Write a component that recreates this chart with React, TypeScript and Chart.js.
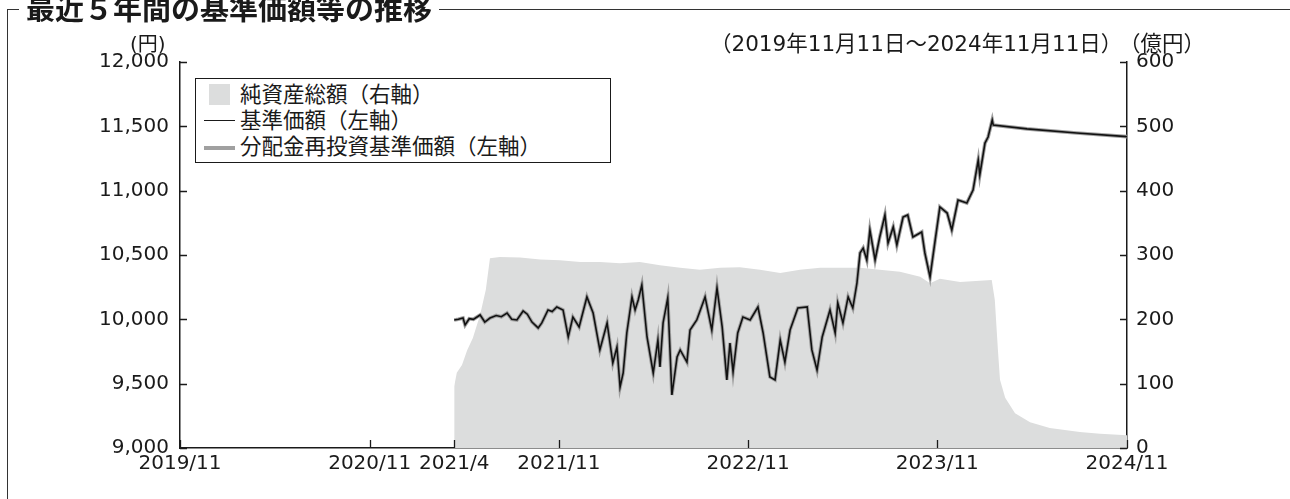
import React, { useEffect, useRef } from "react";
import { Chart, registerables } from "chart.js";

Chart.register(...registerables);

const FONT = "'DejaVu Sans', 'Noto Sans CJK JP', sans-serif";
const CJK = "'Noto Sans CJK JP', sans-serif";
const INK = "#1a1a1a";

// x values are days elapsed since 2019-11-11
const xTickDays = [0, 366, 529, 731, 1096, 1461, 1827];
const xTickLabels = ["2019/11", "2020/11", "2021/4", "2021/11", "2022/11", "2023/11", "2024/11"];

// 基準価額 (円)
const navDays = [
  529, 537, 546, 550, 558, 566, 579, 588, 598, 610, 620, 631, 640, 650, 662, 670, 679, 691, 698, 710,
  718, 727, 739, 749, 758, 770, 785, 797, 810, 824, 835, 843, 849, 855, 862, 872, 878, 884, 891, 901,
  913, 922, 926, 932, 941, 949, 959, 965, 978, 984, 997, 1013, 1026, 1036, 1046, 1055, 1061, 1067, 1076, 1086,
  1100, 1115, 1125, 1138, 1148, 1158, 1167, 1177, 1192, 1210, 1219, 1229, 1239, 1254, 1264, 1269, 1279, 1289, 1298, 1306,
  1312, 1318, 1325, 1331, 1341, 1350, 1360, 1366, 1376, 1383, 1395, 1404, 1414, 1431, 1437, 1447, 1457, 1466, 1480, 1489,
  1501, 1518, 1530, 1540, 1543, 1553, 1559, 1567, 1569, 1634, 1730, 1827,
];
const navValues = [
  9995, 10000, 10010, 9956, 10005, 10000, 10034, 9979, 10010, 10030, 10020, 10049, 10000, 9995, 10065, 10040, 9979, 9933, 9972, 10073,
  10060, 10096, 10073, 9863, 10018, 9941, 10174, 10049, 9762, 9972, 9661, 9785, 9474, 9583, 9894, 10174, 10073, 10150, 10267, 9863,
  9583, 9839, 9630, 9972, 10166, 9412, 9707, 9762, 9668, 9917, 9995, 10174, 9917, 10244, 9941, 9529, 9816, 9591, 9894, 10018,
  9995, 10096, 9894, 9552, 9529, 9839, 9668, 9917, 10088, 10096, 9762, 9606, 9863, 10073, 9894, 10127, 9972, 10174, 10088, 10282,
  10516, 10554, 10461, 10694, 10461, 10640, 10811, 10593, 10718, 10578, 10795, 10811, 10640, 10679, 10516, 10329, 10617, 10873, 10826, 10694,
  10927, 10904, 11005, 11238, 11122, 11370, 11417, 11549, 11510, 11480, 11448, 11420,
];
// 分配金再投資基準価額 (円): no distributions were paid, so it equals the NAV
const reinvestValues = navValues;

// 純資産総額 (億円)
const assetDays = [
  529, 534, 544, 554, 565, 579, 590, 598, 617, 656, 695, 733, 772, 810, 849, 887, 926, 965, 1003, 1042,
  1080, 1119, 1158, 1196, 1235, 1273, 1312, 1350, 1389, 1428, 1447, 1466, 1505, 1543, 1566, 1572, 1578, 1582, 1592, 1611,
  1640, 1678, 1736, 1775, 1827,
];
const assetValues = [
  96, 117, 129, 152, 171, 207, 246, 295, 297, 296, 293, 292, 289, 289, 287, 289, 284, 280, 277, 280,
  281, 277, 272, 277, 280, 280, 280, 277, 274, 266, 256, 263, 258, 260, 261, 230, 152, 106, 78, 54,
  40, 31, 25, 22, 20,
];

const inwardTicks = {
  id: "inwardTicks",
  afterDraw(chart: any) {
    const { ctx, chartArea, scales } = chart;
    ctx.save();
    ctx.strokeStyle = INK;
    ctx.lineWidth = 1.3;
    ctx.beginPath();
    scales.x.ticks.forEach((t: any) => {
      const p = Math.round(scales.x.getPixelForValue(t.value)) + 0.5;
      ctx.moveTo(p, chartArea.bottom);
      ctx.lineTo(p, chartArea.bottom - 8);
    });
    scales.y.ticks.forEach((t: any) => {
      const p = Math.round(scales.y.getPixelForValue(t.value)) + 0.5;
      ctx.moveTo(chartArea.left, p);
      ctx.lineTo(chartArea.left + 7, p);
    });
    scales.y1.ticks.forEach((t: any) => {
      const p = Math.round(scales.y1.getPixelForValue(t.value)) + 0.5;
      ctx.moveTo(chartArea.right, p);
      ctx.lineTo(chartArea.right - 7, p);
    });
    ctx.stroke();
    ctx.restore();
  },
};

export default function App() {
  const ref = useRef<HTMLCanvasElement | null>(null);

  useEffect(() => {
    if (!ref.current) return;
    const chart = new Chart(ref.current, {
      type: "line",
      data: {
        datasets: [
          {
            label: "基準価額（左軸）",
            data: navDays.map((d, i) => ({ x: d, y: navValues[i] })),
            borderColor: "#111",
            borderWidth: 1.6,
            pointRadius: 0,
            tension: 0,
            yAxisID: "y",
            order: 0,
          },
          {
            label: "分配金再投資基準価額（左軸）",
            data: navDays.map((d, i) => ({ x: d, y: reinvestValues[i] })),
            borderColor: "#a0a0a0",
            borderWidth: 3.6,
            pointRadius: 0,
            tension: 0,
            yAxisID: "y",
            order: 1,
          },
          {
            label: "純資産総額（右軸）",
            data: assetDays.map((d, i) => ({ x: d, y: assetValues[i] })),
            borderWidth: 0,
            borderColor: "rgba(0,0,0,0)",
            backgroundColor: "#dcdddd",
            fill: "origin",
            pointRadius: 0,
            tension: 0,
            yAxisID: "y1",
            order: 2,
          },
        ],
      },
      options: {
        responsive: false,
        animation: false,
        layout: { padding: { top: 62, left: 0, right: 0, bottom: 0 } },
        plugins: { legend: { display: false }, tooltip: { enabled: false }, title: { display: false } },
        scales: {
          x: {
            type: "linear",
            min: 0,
            max: 1827,
            grid: { display: false, drawTicks: false },
            border: { display: true, color: INK, width: 1.5 },
            afterBuildTicks: (s: any) => {
              s.ticks = xTickDays.map((v) => ({ value: v }));
            },
            afterFit: (s: any) => {
              s.height = 51;
            },
            ticks: {
              autoSkip: false,
              maxRotation: 0,
              padding: 4,
              color: INK,
              font: { family: FONT, size: 20 },
              callback: (_v: any, i: number) => xTickLabels[i],
            },
          },
          y: {
            position: "left",
            min: 9000,
            max: 12000,
            grid: { display: false, drawTicks: false },
            border: { display: true, color: INK, width: 1.5 },
            afterFit: (s: any) => {
              s.width = 180;
            },
            ticks: {
              stepSize: 500,
              padding: 11,
              color: INK,
              font: { family: FONT, size: 20 },
              callback: (v: any) => Number(v).toLocaleString("en-US"),
            },
          },
          y1: {
            position: "right",
            min: 0,
            max: 600,
            grid: { display: false, drawTicks: false },
            border: { display: true, color: INK, width: 1.5 },
            afterFit: (s: any) => {
              s.width = 163;
            },
            ticks: {
              stepSize: 100,
              padding: 9,
              color: INK,
              font: { family: FONT, size: 20 },
            },
          },
        },
      },
      plugins: [inwardTicks],
    } as any);
    return () => chart.destroy();
  }, []);

  const txt = (extra: React.CSSProperties): React.CSSProperties => ({
    position: "absolute",
    fontFamily: FONT,
    fontSize: 21.5,
    lineHeight: "26px",
    color: INK,
    whiteSpace: "nowrap",
    ...extra,
  });

  return (
    <div style={{ position: "relative", width: 1290, height: 499, overflow: "hidden", background: "#fff" }}>
      <style>{"body{margin:0}"}</style>
      <canvas ref={ref} width={1290} height={499} style={{ position: "absolute", left: 0, top: 0 }} />
      {/* frame */}
      <div style={{ position: "absolute", left: 7, top: 9, width: 1, height: 490, background: "#333" }} />
      <div style={{ position: "absolute", left: 7, top: 9, width: 1283, height: 1, background: "#333" }} />
      <div
        style={{
          position: "absolute",
          left: 19,
          top: -9,
          padding: "0 7px",
          background: "#fff",
          fontFamily: CJK,
          fontWeight: 700,
          fontSize: 29,
          lineHeight: "32px",
          color: INK,
          whiteSpace: "nowrap",
        }}
      >
        最近５年間の基準価額等の推移
      </div>
      {/* unit / period labels */}
      <div style={txt({ left: 130, top: 31, fontSize: 20 })}>(円)</div>
      <div style={txt({ left: 710, top: 31 })}>（2019年11月11日～2024年11月11日）</div>
      <div style={txt({ left: 1119, top: 31 })}>（億円）</div>
      {/* legend */}
      <div
        style={{
          position: "absolute",
          left: 195,
          top: 78,
          width: 416,
          height: 85,
          border: `1.5px solid ${INK}`,
          boxSizing: "border-box",
          background: "#fff",
        }}
      />
      <div style={{ position: "absolute", left: 209, top: 84, width: 21, height: 21, background: "#dcdddd" }} />
      <div style={txt({ left: 240, top: 82 })}>純資産総額（右軸）</div>
      <div style={{ position: "absolute", left: 204, top: 120, width: 31, height: 1.3, background: INK }} />
      <div style={txt({ left: 240, top: 108 })}>基準価額（左軸）</div>
      <div style={{ position: "absolute", left: 204, top: 146, width: 31, height: 3.5, background: "#a0a0a0" }} />
      <div style={txt({ left: 240, top: 134 })}>分配金再投資基準価額（左軸）</div>
    </div>
  );
}
